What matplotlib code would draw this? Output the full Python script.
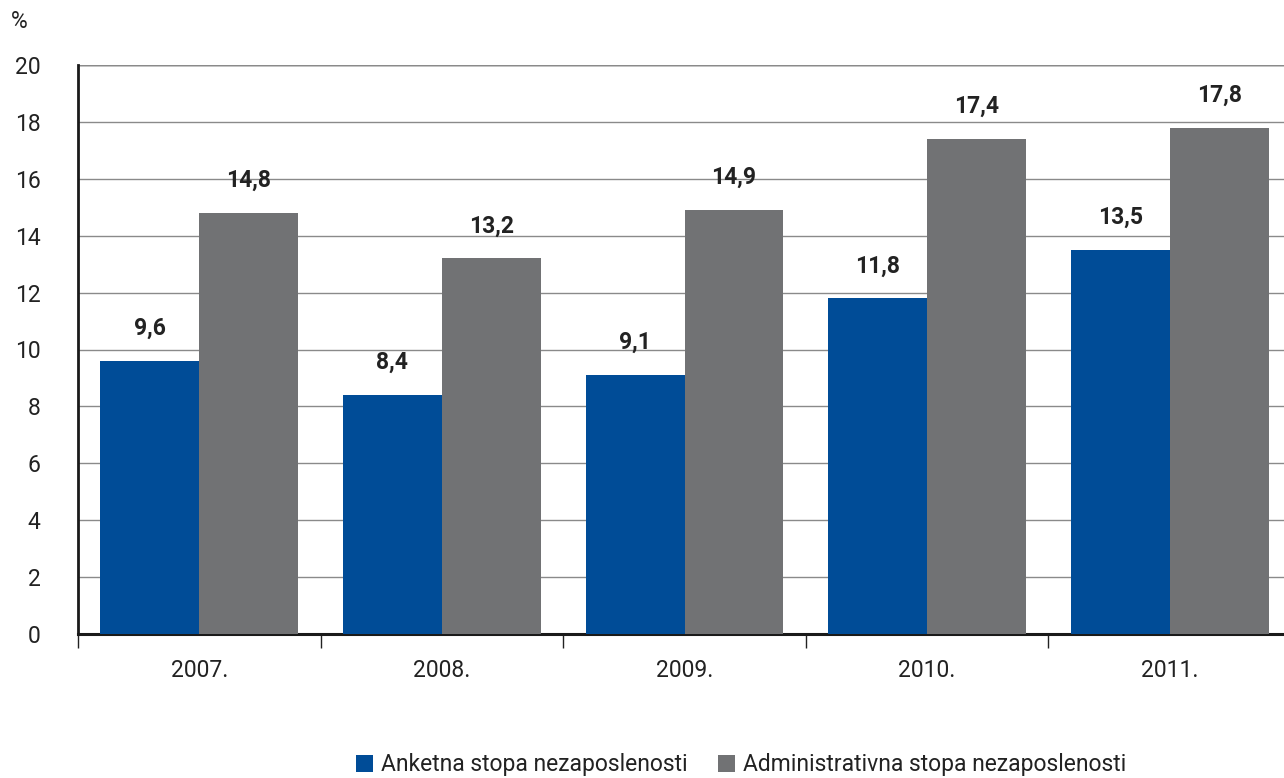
import matplotlib
matplotlib.use('Agg')
import matplotlib.pyplot as plt
import numpy as np

plt.rcParams['font.family'] = ['Roboto', 'DejaVu Sans']

years = ['2007.', '2008.', '2009.', '2010.', '2011.']
anketna = [9.6, 8.4, 9.1, 11.8, 13.5]
administrativna = [14.8, 13.2, 14.9, 17.4, 17.8]
series_names = ['Anketna stopa nezaposlenosti', 'Administrativna stopa nezaposlenosti']

blue = '#004c97'
grey = '#717274'
txt = '#222222'
fs = 16.5

fig = plt.figure(figsize=(12.84, 7.78), dpi=100)
# axes runs slightly past the right edge, like the original
ax = fig.add_axes([78 / 1284, 1 - 634 / 778, (1291 - 78) / 1284, (634 - 65) / 778])

x = np.arange(len(years))
w = 0.408
b1 = ax.bar(x - w / 2, anketna, w, color=blue, label=series_names[0], zorder=3)
b2 = ax.bar(x + w / 2, administrativna, w, color=grey, label=series_names[1], zorder=3)

fmt = lambda v: '{:.1f}'.format(v).replace('.', ',')
for bars, vals in ((b1, anketna), (b2, administrativna)):
    for rect, v in zip(bars, vals):
        ax.annotate(fmt(v), (rect.get_x() + rect.get_width() / 2, v),
                    xytext=(0, 15), textcoords='offset points',
                    ha='center', va='bottom', fontsize=fs, fontweight='bold',
                    color=txt)

ax.set_xlim(-0.5, len(years) - 0.5)
ax.set_ylim(0, 20)
ax.set_yticks(np.arange(0, 21, 2))
ax.yaxis.grid(True, color='#8a8a8a', linewidth=1, zorder=0)
ax.axhline(20, color=txt, linewidth=1, zorder=1)

ax.set_xticks(np.arange(-0.5, len(years), 1))
ax.set_xticklabels([])
ax.set_xticks(x, minor=True)
ax.set_xticklabels(years, minor=True)
ax.tick_params(axis='x', which='major', length=10, width=1, color=txt, direction='out')
ax.tick_params(axis='x', which='minor', length=0, pad=18, labelsize=fs, labelcolor=txt)
ax.tick_params(axis='y', length=0, pad=27, labelsize=fs, labelcolor=txt)
for lbl in ax.get_yticklabels():
    lbl.set_horizontalalignment('right')

for s in ('top', 'right'):
    ax.spines[s].set_visible(False)
ax.spines['left'].set_linewidth(2)
ax.spines['bottom'].set_linewidth(2.2)
ax.spines['left'].set_color('#1a1a1a')
ax.spines['bottom'].set_color('#1a1a1a')

fig.text(11 / 1284, 1 - 22 / 778, '%', fontsize=fs, color=txt, va='center', ha='left')

fig.legend(handles=[b1, b2], labels=series_names, loc='center',
           bbox_to_anchor=(741 / 1284, 1 - 765 / 778), ncol=2, frameon=False,
           fontsize=fs, handlelength=0.75, handleheight=0.75, handletextpad=0.35,
           columnspacing=1.3, labelcolor=txt)

fig.savefig('out.png', dpi=100)
